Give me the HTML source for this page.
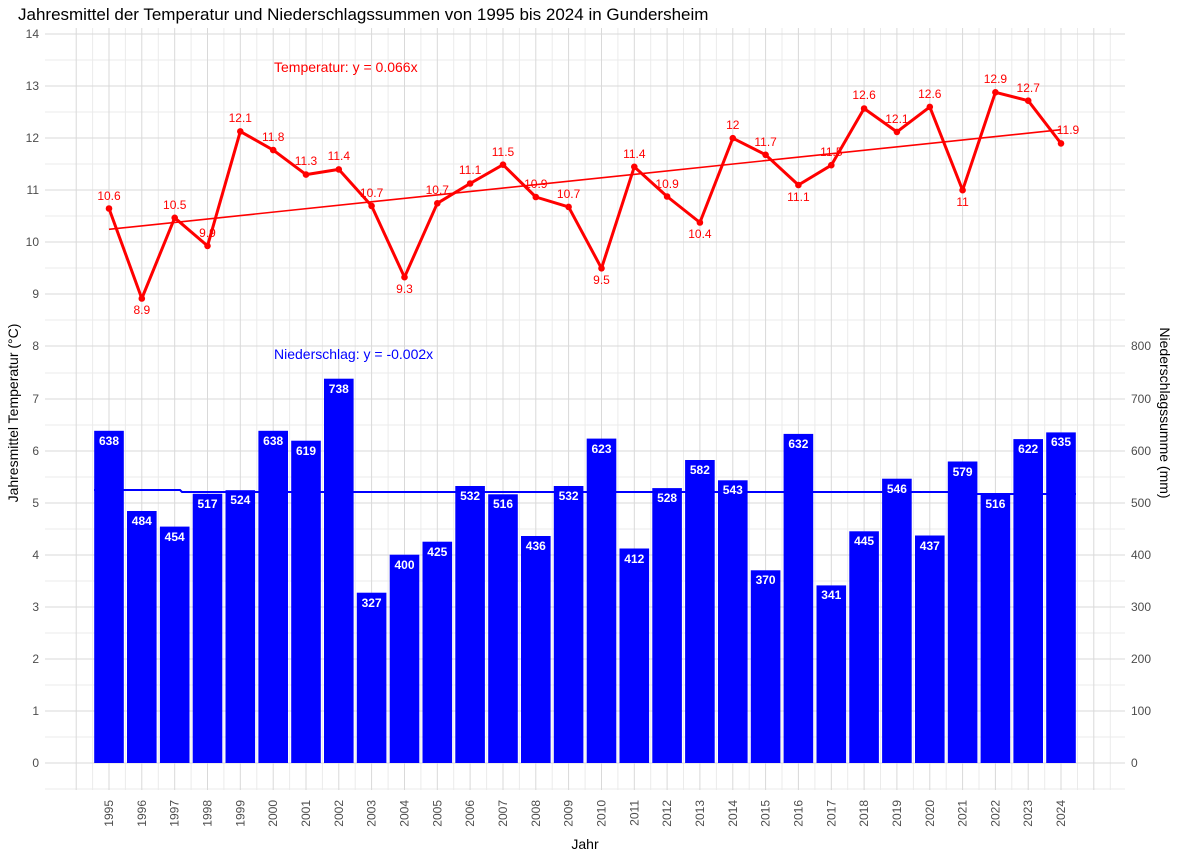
<!DOCTYPE html>
<html><head><meta charset="utf-8"><style>
body{margin:0;background:#fff}
svg{display:block;font-family:"Liberation Sans",sans-serif}
</style></head><body>
<svg width="1180" height="854" viewBox="0 0 1180 854">
<rect width="1180" height="854" fill="#fff"/>
<g id="grid"></g>
<g stroke="#ebebeb" stroke-width="1">
<line x1="45" x2="1125" y1="789" y2="789"/><line x1="45" x2="1125" y1="737" y2="737"/><line x1="45" x2="1125" y1="685" y2="685"/><line x1="45" x2="1125" y1="633" y2="633"/><line x1="45" x2="1125" y1="581" y2="581"/><line x1="45" x2="1125" y1="529" y2="529"/><line x1="45" x2="1125" y1="477" y2="477"/><line x1="45" x2="1125" y1="425" y2="425"/><line x1="45" x2="1125" y1="373" y2="373"/><line x1="45" x2="1125" y1="320" y2="320"/><line x1="45" x2="1125" y1="268" y2="268"/><line x1="45" x2="1125" y1="216" y2="216"/><line x1="45" x2="1125" y1="164" y2="164"/><line x1="45" x2="1125" y1="112" y2="112"/><line x1="45" x2="1125" y1="60" y2="60"/>
</g>
<g stroke="#ebebeb" stroke-width="1">
<line y1="28" y2="790" x1="92.6" x2="92.6"/><line y1="28" y2="790" x1="125.4" x2="125.4"/><line y1="28" y2="790" x1="158.3" x2="158.3"/><line y1="28" y2="790" x1="191.1" x2="191.1"/><line y1="28" y2="790" x1="223.9" x2="223.9"/><line y1="28" y2="790" x1="256.8" x2="256.8"/><line y1="28" y2="790" x1="289.6" x2="289.6"/><line y1="28" y2="790" x1="322.4" x2="322.4"/><line y1="28" y2="790" x1="355.2" x2="355.2"/><line y1="28" y2="790" x1="388.1" x2="388.1"/><line y1="28" y2="790" x1="420.9" x2="420.9"/><line y1="28" y2="790" x1="453.7" x2="453.7"/><line y1="28" y2="790" x1="486.6" x2="486.6"/><line y1="28" y2="790" x1="519.4" x2="519.4"/><line y1="28" y2="790" x1="552.2" x2="552.2"/><line y1="28" y2="790" x1="585.1" x2="585.1"/><line y1="28" y2="790" x1="617.9" x2="617.9"/><line y1="28" y2="790" x1="650.7" x2="650.7"/><line y1="28" y2="790" x1="683.5" x2="683.5"/><line y1="28" y2="790" x1="716.4" x2="716.4"/><line y1="28" y2="790" x1="749.2" x2="749.2"/><line y1="28" y2="790" x1="782.0" x2="782.0"/><line y1="28" y2="790" x1="814.9" x2="814.9"/><line y1="28" y2="790" x1="847.7" x2="847.7"/><line y1="28" y2="790" x1="880.5" x2="880.5"/><line y1="28" y2="790" x1="913.4" x2="913.4"/><line y1="28" y2="790" x1="946.2" x2="946.2"/><line y1="28" y2="790" x1="979.0" x2="979.0"/><line y1="28" y2="790" x1="1011.8" x2="1011.8"/><line y1="28" y2="790" x1="1044.7" x2="1044.7"/><line y1="28" y2="790" x1="1077.5" x2="1077.5"/><line y1="28" y2="790" x1="1110.3" x2="1110.3"/>
</g>
<g stroke="#d9d9d9" stroke-width="1">
<line x1="45" x2="1125" y1="763" y2="763"/><line x1="45" x2="1125" y1="711" y2="711"/><line x1="45" x2="1125" y1="659" y2="659"/><line x1="45" x2="1125" y1="607" y2="607"/><line x1="45" x2="1125" y1="555" y2="555"/><line x1="45" x2="1125" y1="503" y2="503"/><line x1="45" x2="1125" y1="451" y2="451"/><line x1="45" x2="1125" y1="399" y2="399"/><line x1="45" x2="1125" y1="346" y2="346"/><line x1="45" x2="1125" y1="294" y2="294"/><line x1="45" x2="1125" y1="242" y2="242"/><line x1="45" x2="1125" y1="190" y2="190"/><line x1="45" x2="1125" y1="138" y2="138"/><line x1="45" x2="1125" y1="86" y2="86"/><line x1="45" x2="1125" y1="34" y2="34"/>
<line y1="28" y2="790" x1="76.2" x2="76.2"/><line y1="28" y2="790" x1="109.0" x2="109.0"/><line y1="28" y2="790" x1="141.8" x2="141.8"/><line y1="28" y2="790" x1="174.7" x2="174.7"/><line y1="28" y2="790" x1="207.5" x2="207.5"/><line y1="28" y2="790" x1="240.3" x2="240.3"/><line y1="28" y2="790" x1="273.2" x2="273.2"/><line y1="28" y2="790" x1="306.0" x2="306.0"/><line y1="28" y2="790" x1="338.8" x2="338.8"/><line y1="28" y2="790" x1="371.6" x2="371.6"/><line y1="28" y2="790" x1="404.5" x2="404.5"/><line y1="28" y2="790" x1="437.3" x2="437.3"/><line y1="28" y2="790" x1="470.1" x2="470.1"/><line y1="28" y2="790" x1="503.0" x2="503.0"/><line y1="28" y2="790" x1="535.8" x2="535.8"/><line y1="28" y2="790" x1="568.6" x2="568.6"/><line y1="28" y2="790" x1="601.5" x2="601.5"/><line y1="28" y2="790" x1="634.3" x2="634.3"/><line y1="28" y2="790" x1="667.1" x2="667.1"/><line y1="28" y2="790" x1="699.9" x2="699.9"/><line y1="28" y2="790" x1="732.8" x2="732.8"/><line y1="28" y2="790" x1="765.6" x2="765.6"/><line y1="28" y2="790" x1="798.4" x2="798.4"/><line y1="28" y2="790" x1="831.3" x2="831.3"/><line y1="28" y2="790" x1="864.1" x2="864.1"/><line y1="28" y2="790" x1="896.9" x2="896.9"/><line y1="28" y2="790" x1="929.8" x2="929.8"/><line y1="28" y2="790" x1="962.6" x2="962.6"/><line y1="28" y2="790" x1="995.4" x2="995.4"/><line y1="28" y2="790" x1="1028.2" x2="1028.2"/><line y1="28" y2="790" x1="1061.0" x2="1061.0"/><line y1="28" y2="790" x1="1093.8" x2="1093.8"/>
</g>
<!-- precip trend -->
<polyline points="94,490 180,490 182,492 970,492 972,494 1076,494" fill="none" stroke="#0000ff" stroke-width="2"/>
<!-- bars -->
<g fill="#0000ff">
<rect x="94.2" y="430.8" width="29.6" height="332.2"/><rect x="127.0" y="511.0" width="29.6" height="252.0"/><rect x="159.9" y="526.6" width="29.6" height="236.4"/><rect x="192.7" y="493.8" width="29.6" height="269.2"/><rect x="225.5" y="490.2" width="29.6" height="272.8"/><rect x="258.4" y="430.8" width="29.6" height="332.2"/><rect x="291.2" y="440.7" width="29.6" height="322.3"/><rect x="324.0" y="378.7" width="29.6" height="384.3"/><rect x="356.8" y="592.7" width="29.6" height="170.3"/><rect x="389.7" y="554.7" width="29.6" height="208.3"/><rect x="422.5" y="541.7" width="29.6" height="221.3"/><rect x="455.3" y="486.0" width="29.6" height="277.0"/><rect x="488.2" y="494.3" width="29.6" height="268.7"/><rect x="521.0" y="536.0" width="29.6" height="227.0"/><rect x="553.8" y="486.0" width="29.6" height="277.0"/><rect x="586.7" y="438.6" width="29.6" height="324.4"/><rect x="619.5" y="548.5" width="29.6" height="214.5"/><rect x="652.3" y="488.1" width="29.6" height="274.9"/><rect x="685.1" y="460.0" width="29.6" height="303.0"/><rect x="718.0" y="480.3" width="29.6" height="282.7"/><rect x="750.8" y="570.3" width="29.6" height="192.7"/><rect x="783.6" y="433.9" width="29.6" height="329.1"/><rect x="816.5" y="585.4" width="29.6" height="177.6"/><rect x="849.3" y="531.3" width="29.6" height="231.7"/><rect x="882.1" y="478.7" width="29.6" height="284.3"/><rect x="915.0" y="535.5" width="29.6" height="227.5"/><rect x="947.8" y="461.5" width="29.6" height="301.5"/><rect x="980.6" y="494.3" width="29.6" height="268.7"/><rect x="1013.4" y="439.1" width="29.6" height="323.9"/><rect x="1046.2" y="432.4" width="29.6" height="330.6"/>
</g>
<g fill="#fff" font-weight="bold" font-size="12" text-anchor="middle">
<text x="109.0" y="445">638</text><text x="141.8" y="525">484</text><text x="174.7" y="541">454</text><text x="207.5" y="508">517</text><text x="240.3" y="504">524</text><text x="273.2" y="445">638</text><text x="306.0" y="455">619</text><text x="338.8" y="393">738</text><text x="371.6" y="607">327</text><text x="404.5" y="569">400</text><text x="437.3" y="556">425</text><text x="470.1" y="500">532</text><text x="503.0" y="508">516</text><text x="535.8" y="550">436</text><text x="568.6" y="500">532</text><text x="601.5" y="453">623</text><text x="634.3" y="563">412</text><text x="667.1" y="502">528</text><text x="699.9" y="474">582</text><text x="732.8" y="494">543</text><text x="765.6" y="584">370</text><text x="798.4" y="448">632</text><text x="831.3" y="599">341</text><text x="864.1" y="545">445</text><text x="896.9" y="493">546</text><text x="929.8" y="550">437</text><text x="962.6" y="476">579</text><text x="995.4" y="508">516</text><text x="1028.2" y="453">622</text><text x="1061.0" y="446">635</text>
</g>
<!-- temp trend -->
<line x1="109" y1="229.3" x2="1061" y2="129.7" stroke="#ff0000" stroke-width="1.6"/>
<polyline fill="none" stroke="#ff0000" stroke-width="3" stroke-linejoin="round" points="109.0,208.5 141.8,298.5 174.7,217.8 207.5,245.9 240.3,131.4 273.2,150.1 306.0,174.6 338.8,169.4 371.6,205.9 404.5,277.2 437.3,203.3 470.1,183.5 503.0,164.7 535.8,197.0 568.6,206.9 601.5,268.3 634.3,166.8 667.1,196.5 699.9,222.5 732.8,138.2 765.6,154.8 798.4,185.0 831.3,165.2 864.1,108.5 896.9,131.9 929.8,106.9 962.6,190.2 995.4,92.3 1028.2,100.7 1061.0,143.4"/>
<g fill="#ff0000">
<circle cx="109.0" cy="208.5" r="3.3"/><circle cx="141.8" cy="298.5" r="3.3"/><circle cx="174.7" cy="217.8" r="3.3"/><circle cx="207.5" cy="245.9" r="3.3"/><circle cx="240.3" cy="131.4" r="3.3"/><circle cx="273.2" cy="150.1" r="3.3"/><circle cx="306.0" cy="174.6" r="3.3"/><circle cx="338.8" cy="169.4" r="3.3"/><circle cx="371.6" cy="205.9" r="3.3"/><circle cx="404.5" cy="277.2" r="3.3"/><circle cx="437.3" cy="203.3" r="3.3"/><circle cx="470.1" cy="183.5" r="3.3"/><circle cx="503.0" cy="164.7" r="3.3"/><circle cx="535.8" cy="197.0" r="3.3"/><circle cx="568.6" cy="206.9" r="3.3"/><circle cx="601.5" cy="268.3" r="3.3"/><circle cx="634.3" cy="166.8" r="3.3"/><circle cx="667.1" cy="196.5" r="3.3"/><circle cx="699.9" cy="222.5" r="3.3"/><circle cx="732.8" cy="138.2" r="3.3"/><circle cx="765.6" cy="154.8" r="3.3"/><circle cx="798.4" cy="185.0" r="3.3"/><circle cx="831.3" cy="165.2" r="3.3"/><circle cx="864.1" cy="108.5" r="3.3"/><circle cx="896.9" cy="131.9" r="3.3"/><circle cx="929.8" cy="106.9" r="3.3"/><circle cx="962.6" cy="190.2" r="3.3"/><circle cx="995.4" cy="92.3" r="3.3"/><circle cx="1028.2" cy="100.7" r="3.3"/><circle cx="1061.0" cy="143.4" r="3.3"/>
</g>
<g fill="#ff0000" font-size="12" text-anchor="middle">
<text x="109.0" y="200">10.6</text><text x="141.8" y="314">8.9</text><text x="174.7" y="209">10.5</text><text x="207.5" y="237">9.9</text><text x="240.3" y="122">12.1</text><text x="273.2" y="141">11.8</text><text x="306.0" y="165">11.3</text><text x="338.8" y="160">11.4</text><text x="371.6" y="197">10.7</text><text x="404.5" y="293">9.3</text><text x="437.3" y="194">10.7</text><text x="470.1" y="174">11.1</text><text x="503.0" y="156">11.5</text><text x="535.8" y="188">10.9</text><text x="568.6" y="198">10.7</text><text x="601.5" y="284">9.5</text><text x="634.3" y="158">11.4</text><text x="667.1" y="188">10.9</text><text x="699.9" y="238">10.4</text><text x="732.8" y="129">12</text><text x="765.6" y="146">11.7</text><text x="798.4" y="201">11.1</text><text x="831.3" y="156">11.5</text><text x="864.1" y="99">12.6</text><text x="896.9" y="123">12.1</text><text x="929.8" y="98">12.6</text><text x="962.6" y="206">11</text><text x="995.4" y="83">12.9</text><text x="1028.2" y="92">12.7</text><text x="1068" y="134">11.9</text>
</g>
<text x="274" y="72" fill="#ff0000" font-size="14">Temperatur: y = 0.066x</text>
<text x="274" y="359" fill="#0000ff" font-size="14">Niederschlag: y = -0.002x</text>
<!-- left axis labels -->
<g fill="#4d4d4d" font-size="12" text-anchor="end">
<text x="39" y="767">0</text><text x="39" y="715">1</text><text x="39" y="663">2</text><text x="39" y="611">3</text><text x="39" y="559">4</text><text x="39" y="507">5</text><text x="39" y="455">6</text><text x="39" y="403">7</text><text x="39" y="350">8</text><text x="39" y="298">9</text><text x="39" y="246">10</text><text x="39" y="194">11</text><text x="39" y="142">12</text><text x="39" y="90">13</text><text x="39" y="38">14</text>
</g>
<g fill="#4d4d4d" font-size="12">
<text x="1131" y="767">0</text><text x="1131" y="715">100</text><text x="1131" y="663">200</text><text x="1131" y="611">300</text><text x="1131" y="559">400</text><text x="1131" y="507">500</text><text x="1131" y="455">600</text><text x="1131" y="403">700</text><text x="1131" y="350">800</text>
</g>
<g fill="#4d4d4d" font-size="12" text-anchor="end">
<text transform="translate(113,800) rotate(-90)">1995</text><text transform="translate(145.8,800) rotate(-90)">1996</text><text transform="translate(178.7,800) rotate(-90)">1997</text><text transform="translate(211.5,800) rotate(-90)">1998</text><text transform="translate(244.3,800) rotate(-90)">1999</text><text transform="translate(277.2,800) rotate(-90)">2000</text><text transform="translate(310,800) rotate(-90)">2001</text><text transform="translate(342.8,800) rotate(-90)">2002</text><text transform="translate(375.6,800) rotate(-90)">2003</text><text transform="translate(408.5,800) rotate(-90)">2004</text><text transform="translate(441.3,800) rotate(-90)">2005</text><text transform="translate(474.1,800) rotate(-90)">2006</text><text transform="translate(507,800) rotate(-90)">2007</text><text transform="translate(539.8,800) rotate(-90)">2008</text><text transform="translate(572.6,800) rotate(-90)">2009</text><text transform="translate(605.5,800) rotate(-90)">2010</text><text transform="translate(638.3,800) rotate(-90)">2011</text><text transform="translate(671.1,800) rotate(-90)">2012</text><text transform="translate(703.9,800) rotate(-90)">2013</text><text transform="translate(736.8,800) rotate(-90)">2014</text><text transform="translate(769.6,800) rotate(-90)">2015</text><text transform="translate(802.4,800) rotate(-90)">2016</text><text transform="translate(835.3,800) rotate(-90)">2017</text><text transform="translate(868.1,800) rotate(-90)">2018</text><text transform="translate(900.9,800) rotate(-90)">2019</text><text transform="translate(933.8,800) rotate(-90)">2020</text><text transform="translate(966.6,800) rotate(-90)">2021</text><text transform="translate(999.4,800) rotate(-90)">2022</text><text transform="translate(1032.2,800) rotate(-90)">2023</text><text transform="translate(1065,800) rotate(-90)">2024</text>
</g>
<text x="585" y="849" font-size="14" text-anchor="middle" fill="#000">Jahr</text>
<text transform="translate(18,413) rotate(-90)" font-size="14" text-anchor="middle" fill="#000">Jahresmittel Temperatur (°C)</text>
<text transform="translate(1160,413) rotate(90)" font-size="14" text-anchor="middle" fill="#000">Niederschlagssumme (mm)</text>
<text x="18" y="20" font-size="17" fill="#000">Jahresmittel der Temperatur und Niederschlagssummen von 1995 bis 2024 in Gundersheim</text>
</svg>
</body></html>
